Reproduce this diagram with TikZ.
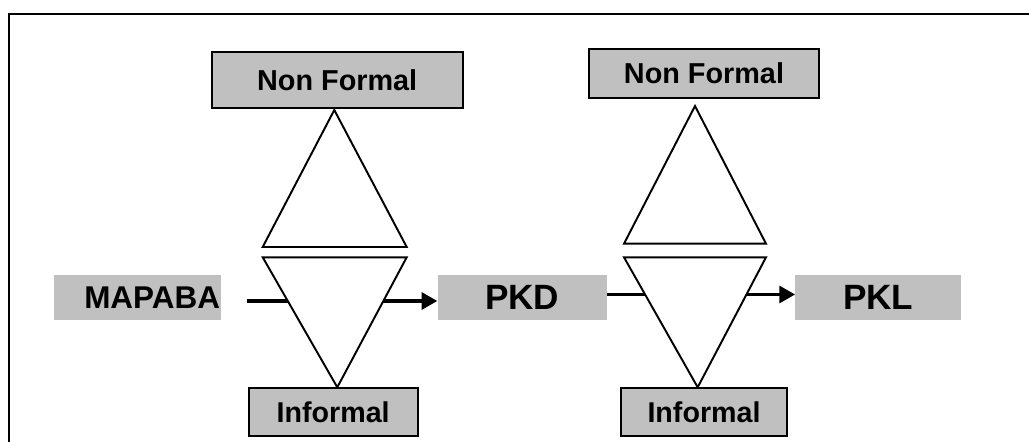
\documentclass[tikz,border=0pt]{standalone}
\usepackage{fontspec}
\setmainfont{Liberation Sans}
\usetikzlibrary{arrows.meta}
\definecolor{boxgray}{HTML}{C0C0C0}
\tikzset{
  tribox/.style={draw=black, fill=boxgray, line width=1.1pt, inner sep=0pt, minimum height=0.97cm},
  stagebox/.style={fill=boxgray, inner sep=0pt, minimum height=0.89cm},
  tri/.style={draw=black, fill=white, line width=1.1pt, line join=miter},
  flow/.style={line width=1.9pt, -{Triangle[length=8.9pt,width=9.5pt]}}
}
\begin{document}
\begin{tikzpicture}[x=0.02cm, y=-0.02cm, font=\bfseries]
\useasboundingbox (0,0) rectangle (1029,442);
% frame
\draw[line width=1.5pt] (9,442) -- (9,14) -- (1029,14);
% stages
\node[stagebox, text width=3.30cm, inner xsep=0.02cm, align=right, font=\fontsize{17.9}{20}\bfseries] (mapaba) at (137.5,297.5) {MAPABA};
\node[stagebox, minimum width=3.38cm, font=\fontsize{20}{22}\bfseries] (pkd) at (522.2,297.5) {PKD};
\node[stagebox, minimum width=3.31cm, font=\fontsize{20}{22}\bfseries] (pkl) at (878.2,297.5) {PKL};
% connectors
\coordinate (a1) at ([xshift=0.52cm, yshift=-0.07cm]mapaba.east);
\draw[flow] (a1) -- (a1 -| pkd.west);
\coordinate (a2) at ([yshift=0.06cm]pkd.east);
\draw[flow] (a2) -- (a2 -| pkl.west);
% triangles
\draw[tri] (334.3,110) -- (406.7,247) -- (262.7,247) -- cycle;
\draw[tri] (262.7,257.3) -- (406.7,257.3) -- (337.3,387.3) -- cycle;
\draw[tri] (695,106) -- (766,243.7) -- (624,243.7) -- cycle;
\draw[tri] (624,257.3) -- (766,257.3) -- (697.7,387.3) -- cycle;
% side boxes
\node[tribox, minimum width=5.02cm, minimum height=1.13cm, font=\fontsize{16.4}{18}\bfseries] (nf1) at (337.2,80) {Non Formal};
\node[tribox, minimum width=4.60cm, font=\fontsize{16.4}{18}\bfseries] (nf2) at (704,73.5) {Non Formal};
\node[tribox, minimum width=3.38cm, font=\fontsize{16.3}{18}\bfseries] (inf1) at (333.2,411.8) {Informal};
\node[tribox, minimum width=3.33cm, font=\fontsize{16.3}{18}\bfseries] (inf2) at (704,411.8) {Informal};
\end{tikzpicture}
\end{document}
